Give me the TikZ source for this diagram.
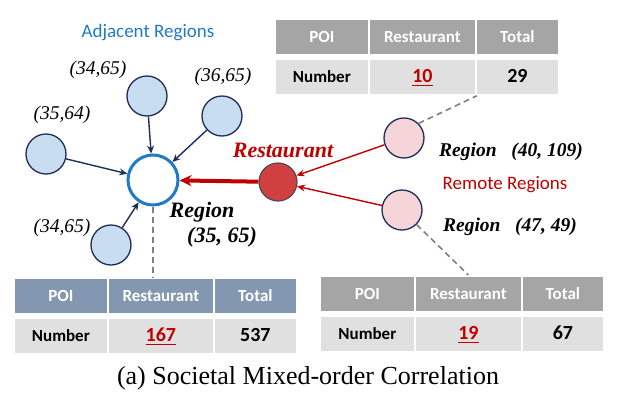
\documentclass[tikz,border=0pt]{standalone}
\usepackage{fontspec}
\setmainfont{Liberation Serif}
\newfontfamily\cellfont{Carlito}
\usetikzlibrary{arrows.meta}

\definecolor{navy}{HTML}{1F2D5A}
\definecolor{nearblue}{HTML}{C9DDF1}
\definecolor{hubblue}{HTML}{1F7AC7}
\definecolor{poired}{HTML}{D04040}
\definecolor{farpink}{HTML}{F6D5D8}
\definecolor{redline}{HTML}{C00000}
\definecolor{headgray}{HTML}{A5A5A5}
\definecolor{headblue}{HTML}{8497B0}
\definecolor{rowgray}{HTML}{E0E0E0}

\newcommand\redcount[1]{\textcolor{redline}{\setbox0\hbox{#1}\rlap{\rule[-3.5pt]{\wd0}{1.6pt}}\box0}}

\begin{document}
\begin{tikzpicture}[x=1pt, y=-1pt,
  near/.style={circle, draw=navy, line width=1.3pt, fill=nearblue, minimum size=40pt, inner sep=0pt},
  far/.style={circle, draw=navy, line width=1.3pt, fill=farpink, minimum size=40pt, inner sep=0pt},
  hub/.style={circle, draw=hubblue, line width=3pt, fill=white, minimum size=50pt, inner sep=0pt},
  poi/.style={circle, draw=black!70, line width=1.2pt, fill=poired, minimum size=38pt, inner sep=0pt},
  nav/.style={-{Stealth[length=8pt,width=7pt]}, draw=navy, line width=1.4pt},
  pull/.style={-{Stealth[length=8pt,width=7pt]}, draw=redline, line width=1.4pt},
  link/.style={draw=gray, line width=1.6pt, dash pattern=on 6pt off 4pt},
  cell/.style={draw=white, line width=1.8pt, anchor=north west, minimum height=36pt, inner sep=0pt,
    text depth=0pt, text height=12pt, font=\cellfont\fontsize{17}{19}\selectfont\bfseries},
  head/.style={cell, fill=headgray, text=white},
  bluehead/.style={cell, fill=headblue, text=white},
  body/.style={cell, fill=rowgray, text=black},
  count/.style={body, font=\cellfont\fontsize{20}{22}\selectfont\bfseries},
  coord/.style={font=\fontsize{19.5}{21}\selectfont\itshape},
  tag/.style={font=\fontsize{19.5}{21}\selectfont\bfseries\itshape},
  group/.style={font=\cellfont\fontsize{19}{21}\selectfont}]

\useasboundingbox (0,0) rectangle (619,394);

% regions
\node[hub] (hub) at (153,180) {};
\node[near] (n1) at (147,96) {};
\node[near] (n2) at (222,116) {};
\node[near] (n3) at (46,154) {};
\node[near] (n4) at (111,245) {};
\node[poi] (rest) at (278,182) {};
\node[far] (r1) at (404,138) {};
\node[far] (r2) at (402,210) {};

\draw[nav] (n1) -- (hub);
\draw[nav] (n2) -- (hub);
\draw[nav] (n3) -- (hub);
\draw[nav] (n4) -- (hub);
\draw[pull] (r1) -- (rest);
\draw[pull] (r2) -- (rest);
\draw[-{Stealth[length=12pt,width=11pt]}, draw=redline, line width=4pt] (rest) -- (hub);

% labels
\node[group, text=hubblue] (adj) at (148,33) {Adjacent Regions};
\node[coord] (l1) at (98,70) {(34,65)};
\node[coord] (l2) at (223,77) {(36,65)};
\node[coord] (l3) at (62,115) {(35,64)};
\node[coord] (l4) at (62,228) {(34,65)};
\node[font=\fontsize{22}{24}\selectfont\bfseries\itshape, text=redline] (poiname) at (283,150) {Restaurant};
\node[font=\fontsize{22}{24}\selectfont\bfseries\itshape] (hubname) at (202,212) {Region};
\node[font=\fontsize{22}{24}\selectfont\bfseries\itshape] (hubxy) at (222,237) {(35, 65)};
\node[tag] (t1) at (511,152) {Region\enspace\ (40, 109)};
\node[group, text=redline] (far) at (505,185) {Remote Regions};
\node[tag] (t2) at (510,227) {Region\enspace\ (47, 49)};

% -------- tables -----------
\node[head, minimum width=94pt] (tp-h1) at (274,18) {POI};
\node[head, minimum width=107pt] (tp-h2) at (368,18) {Restaurant};
\node[head, minimum width=83pt] (tp-h3) at (475,18) {Total};
\node[body, minimum width=94pt] (tp-r1) at (274,58) {Number};
\node[count, minimum width=107pt] (tp-r2) at (368,58) {\redcount{10}};
\node[count, minimum width=83pt] (tp-r3) at (475,58) {29};

\node[bluehead, minimum width=94pt] (bl-h1) at (13,277) {POI};
\node[bluehead, minimum width=106pt] (bl-h2) at (107,277) {Restaurant};
\node[bluehead, minimum width=83pt] (bl-h3) at (213,277) {Total};
\node[body, minimum width=94pt] (bl-r1) at (13,317) {Number};
\node[count, minimum width=106pt] (bl-r2) at (107,317) {\redcount{167}};
\node[count, minimum width=83pt] (bl-r3) at (213,317) {537};

\node[head, minimum width=95pt] (br-h1) at (319,275) {POI};
\node[head, minimum width=107pt] (br-h2) at (414,275) {Restaurant};
\node[head, minimum width=82pt] (br-h3) at (521,275) {Total};
\node[body, minimum width=95pt] (br-r1) at (319,315) {Number};
\node[count, minimum width=107pt] (br-r2) at (414,315) {\redcount{19}};
\node[count, minimum width=82pt] (br-r3) at (521,315) {67};

% dashed links to tables
\draw[link] (hub.south) -- (hub.south |- bl-h2.north);
\draw[link] (r1.north east) -- (tp-r2.south east);
\draw[link] (r2.south east) -- (br-h2.north);

\node[font=\fontsize{26}{28}\selectfont] (caption) at (308,378) {(a) Societal Mixed-order Correlation};
\end{tikzpicture}
\end{document}
